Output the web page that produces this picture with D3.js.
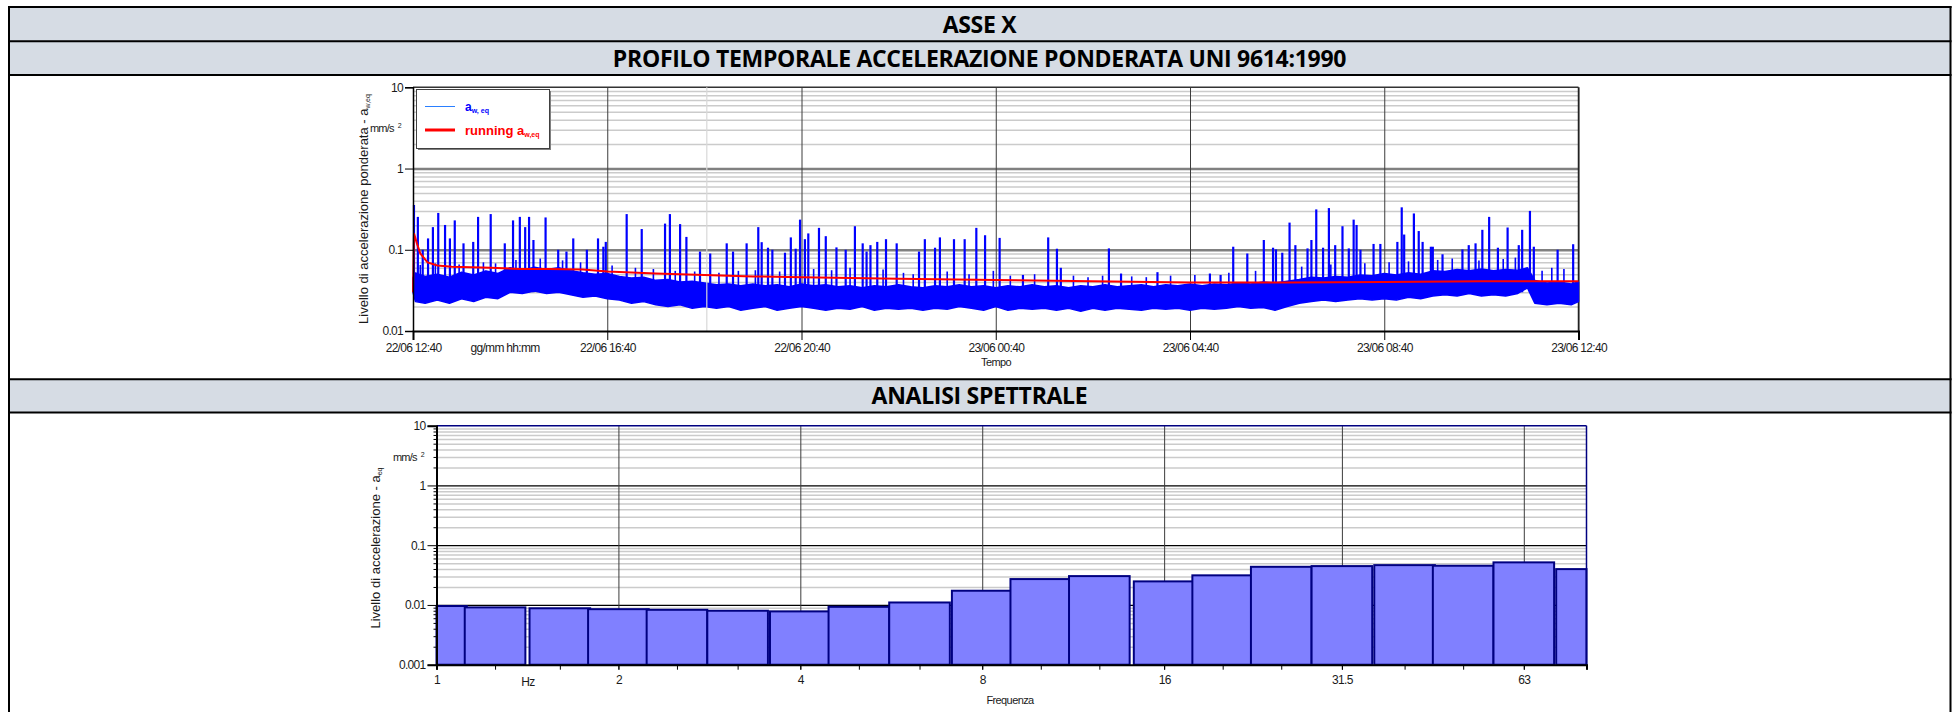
<!DOCTYPE html>
<html>
<head>
<meta charset="utf-8">
<script src="https://cdn.jsdelivr.net/npm/d3@7"></script>
<style>
  body { margin: 0; background: #fff; }
</style>
</head>
<body>
<script>
// ---- data ----
var headerTitles = ["ASSE X", "PROFILO TEMPORALE ACCELERAZIONE PONDERATA UNI 9614:1990", "ANALISI SPETTRALE"];

// time profile (hours after 22/06 12:40, mm/s2)
var timeLabels = ["22/06 12:40", "22/06 16:40", "22/06 20:40", "23/06 00:40", "23/06 04:40", "23/06 08:40", "23/06 12:40"];
var levelTicks = [0.01, 0.1, 1, 10];
// dense part of a_w,eq : [hour, lower edge, upper edge]
var bandEnvelope = [
  [0.00, 0.030, 0.045], [0.05, 0.023, 0.052], [0.25, 0.022, 0.047], [0.50, 0.024, 0.050],
  [0.75, 0.022, 0.046], [1.00, 0.025, 0.053], [1.25, 0.023, 0.049], [1.50, 0.026, 0.055],
  [1.75, 0.025, 0.051], [2.00, 0.030, 0.060], [2.25, 0.029, 0.056], [2.50, 0.031, 0.061],
  [2.75, 0.029, 0.057], [3.00, 0.030, 0.060], [3.25, 0.028, 0.055], [3.50, 0.026, 0.052],
  [3.75, 0.027, 0.050], [4.00, 0.025, 0.051], [4.25, 0.024, 0.047], [4.50, 0.022, 0.045],
  [4.75, 0.023, 0.046], [5.00, 0.021, 0.042], [5.25, 0.020, 0.043], [5.50, 0.021, 0.040],
  [5.75, 0.019, 0.041], [6.00, 0.020, 0.039], [6.25, 0.019, 0.037], [6.50, 0.020, 0.038],
  [6.75, 0.018, 0.036], [7.00, 0.019, 0.038], [7.25, 0.020, 0.036], [7.50, 0.018, 0.037],
  [7.75, 0.019, 0.035], [8.00, 0.020, 0.038], [8.25, 0.019, 0.036], [8.50, 0.018, 0.037],
  [8.75, 0.019, 0.035], [9.00, 0.0185, 0.036], [9.25, 0.020, 0.034], [9.50, 0.018, 0.036],
  [9.75, 0.019, 0.035], [10.00, 0.0185, 0.037], [10.25, 0.019, 0.035], [10.50, 0.018, 0.034],
  [10.75, 0.019, 0.036], [11.00, 0.0185, 0.035], [11.25, 0.020, 0.037], [11.50, 0.019, 0.035],
  [11.75, 0.018, 0.036], [12.00, 0.020, 0.034], [12.25, 0.018, 0.036], [12.50, 0.019, 0.035],
  [12.75, 0.0185, 0.037], [13.00, 0.019, 0.035], [13.25, 0.018, 0.036], [13.50, 0.019, 0.034],
  [13.75, 0.0175, 0.036], [14.00, 0.019, 0.035], [14.25, 0.018, 0.037], [14.50, 0.019, 0.035],
  [14.75, 0.0185, 0.036], [15.00, 0.018, 0.037], [15.25, 0.019, 0.035], [15.50, 0.0185, 0.037],
  [15.75, 0.019, 0.036], [16.00, 0.018, 0.038], [16.25, 0.019, 0.036], [16.50, 0.0185, 0.038],
  [16.75, 0.019, 0.037], [17.00, 0.020, 0.039], [17.25, 0.019, 0.038], [17.50, 0.0195, 0.040],
  [17.75, 0.018, 0.039], [18.00, 0.020, 0.041], [18.25, 0.022, 0.043], [18.50, 0.023, 0.046],
  [18.75, 0.024, 0.045], [19.00, 0.023, 0.047], [19.25, 0.024, 0.046], [19.50, 0.025, 0.049],
  [19.75, 0.024, 0.048], [20.00, 0.025, 0.051], [20.25, 0.024, 0.049], [20.50, 0.026, 0.052],
  [20.75, 0.025, 0.050], [21.00, 0.027, 0.055], [21.25, 0.028, 0.054], [21.50, 0.027, 0.057],
  [21.75, 0.029, 0.055], [22.00, 0.027, 0.058], [22.25, 0.028, 0.055], [22.50, 0.027, 0.057],
  [22.75, 0.029, 0.056], [22.95, 0.034, 0.060], [23.10, 0.022, 0.042], [23.35, 0.021, 0.039],
  [23.60, 0.022, 0.040], [23.85, 0.021, 0.038], [24.00, 0.023, 0.040]
];
// isolated peaks of a_w,eq : [hour, value]
var spikes = [
  [0.02, 0.356], [0.10, 0.254], [0.20, 0.10], [0.31, 0.138], [0.41, 0.19], [0.52, 0.284],
  [0.66, 0.202], [0.76, 0.138], [0.86, 0.23], [1.04, 0.12], [1.24, 0.125], [1.34, 0.254],
  [1.60, 0.275], [1.89, 0.12], [2.06, 0.23], [2.20, 0.254], [2.31, 0.19], [2.39, 0.254],
  [2.48, 0.132], [2.73, 0.25], [2.99, 0.10], [3.16, 0.095], [3.30, 0.138], [3.58, 0.10],
  [3.81, 0.138], [3.92, 0.109], [3.97, 0.125], [4.40, 0.275], [4.71, 0.18], [5.19, 0.21],
  [5.29, 0.275], [5.50, 0.207], [5.63, 0.144], [5.91, 0.095], [6.12, 0.09], [6.46, 0.12],
  [6.59, 0.095], [6.87, 0.12], [7.11, 0.19], [7.18, 0.124], [7.31, 0.106], [7.40, 0.10],
  [7.66, 0.092], [7.78, 0.142], [7.88, 0.103], [7.97, 0.235], [8.07, 0.135], [8.14, 0.159],
  [8.36, 0.186], [8.50, 0.147], [8.72, 0.107], [8.91, 0.10], [9.10, 0.195], [9.26, 0.12],
  [9.34, 0.095], [9.42, 0.114], [9.56, 0.125], [9.74, 0.135], [9.96, 0.12], [10.42, 0.095],
  [10.54, 0.135], [10.75, 0.106], [10.85, 0.142], [11.14, 0.135], [11.36, 0.135], [11.60, 0.186],
  [11.78, 0.151], [12.08, 0.14], [12.56, 0.049], [13.08, 0.142], [13.26, 0.103], [13.34, 0.06],
  [14.33, 0.104], [14.58, 0.051], [15.33, 0.053], [16.41, 0.051], [16.63, 0.049], [16.89, 0.109],
  [17.18, 0.09], [17.52, 0.132], [17.71, 0.106], [17.77, 0.101], [17.90, 0.092], [18.05, 0.216],
  [18.17, 0.114], [18.42, 0.104], [18.50, 0.132], [18.60, 0.314], [18.74, 0.106], [18.86, 0.326],
  [18.99, 0.114], [19.14, 0.195], [19.27, 0.104], [19.37, 0.235], [19.43, 0.202], [19.51, 0.10],
  [19.78, 0.118], [19.92, 0.118], [20.27, 0.125], [20.36, 0.333], [20.41, 0.154], [20.61, 0.28],
  [20.71, 0.17], [20.79, 0.125], [20.96, 0.109], [21.00, 0.109], [21.20, 0.088], [21.61, 0.101],
  [21.74, 0.114], [21.88, 0.12], [22.02, 0.176], [22.16, 0.254], [22.34, 0.106], [22.54, 0.188],
  [22.77, 0.114], [22.84, 0.176], [23.00, 0.301], [23.08, 0.109], [23.57, 0.10], [23.89, 0.117]
];
// smaller peaks just above the dense part : [hour, value]
var minorPeaks = [
  [0.15, 0.065], [0.46, 0.068], [0.95, 0.066], [1.45, 0.070], [1.70, 0.068], [2.12, 0.075],
  [2.62, 0.078], [3.08, 0.074], [3.45, 0.070], [4.10, 0.064], [4.58, 0.060], [4.95, 0.058],
  [5.40, 0.055], [5.80, 0.054], [6.30, 0.052], [6.70, 0.055], [7.05, 0.056], [7.55, 0.054],
  [8.25, 0.058], [8.62, 0.056], [9.00, 0.060], [9.68, 0.057], [10.10, 0.052], [10.30, 0.050],
  [11.00, 0.054], [11.45, 0.050], [11.95, 0.055], [12.30, 0.048], [12.80, 0.050], [13.60, 0.048],
  [13.90, 0.046], [14.20, 0.048], [14.80, 0.047], [15.10, 0.046], [15.60, 0.048], [16.10, 0.049],
  [16.80, 0.052], [17.35, 0.055], [18.30, 0.062], [18.90, 0.066], [19.60, 0.068], [20.10, 0.070],
  [20.50, 0.072], [21.10, 0.075], [21.40, 0.078], [21.95, 0.074], [22.45, 0.077], [22.70, 0.080],
  [23.25, 0.055], [23.45, 0.060], [23.70, 0.058]
];
// running a_w,eq : [hour, value]
var runningAeq = [
  [0.00, 0.030], [0.02, 0.160], [0.08, 0.120], [0.15, 0.090], [0.3, 0.070], [0.5, 0.064],
  [0.8, 0.062], [1.2, 0.061], [1.6, 0.060], [2.2, 0.058], [2.8, 0.058], [3.5, 0.057],
  [4.0, 0.054], [5.0, 0.051], [6.0, 0.049], [7.0, 0.047], [8.0, 0.046], [10.0, 0.044],
  [12.0, 0.0425], [14.0, 0.041], [16.0, 0.0395], [18.0, 0.0395], [20.0, 0.040], [22.0, 0.041],
  [24.0, 0.041]
];
var dataGapHour = 6.05;

// spectrum, 1/3 octave bands (Hz, mm/s2)
var bandCenters = [1, 1.25, 1.6, 2, 2.5, 3.15, 4, 5, 6.3, 8, 10, 12.5, 16, 20, 25, 31.5, 40, 50, 63, 80];
var spectrumValues = [0.0096, 0.0091, 0.0088, 0.0085, 0.0083, 0.0080, 0.0078, 0.0093, 0.0110, 0.0173,
  0.0271, 0.0304, 0.0248, 0.0313, 0.0435, 0.0447, 0.0464, 0.0453, 0.0516, 0.0398];
var freqLabels = ["1", "2", "4", "8", "16", "31.5", "63"];
var spectrumTicks = [0.001, 0.01, 0.1, 1, 10];

// ---- page ----
var svg = d3.select("body").append("svg")
  .attr("width", 1953)
  .attr("height", 712)
  .style("font-family", "'Liberation Sans', Arial, sans-serif");

// report table: grey header rows and black rules
var headRows = [[7, 41.3], [41.3, 75], [379.3, 412.5]];
headRows.forEach(function (r, i) {
  svg.append("rect")
    .attr("x", 9).attr("y", r[0])
    .attr("width", 1941.5).attr("height", r[1] - r[0])
    .attr("fill", "#d6dce4");
  svg.append("text")
    .attr("x", 979.5).attr("y", (r[0] + r[1]) / 2 + 8.5)
    .attr("text-anchor", "middle")
    .style("font-family", "'Open Sans', sans-serif")
    .style("font-weight", 700)
    .style("font-size", "23px")
    .style("letter-spacing", "-0.3px")
    .text(headerTitles[i]);
});
[7, 41.3, 75, 379.3, 412.5].forEach(function (y) {
  svg.append("line").attr("x1", 8).attr("x2", 1951.5).attr("y1", y).attr("y2", y)
    .attr("stroke", "#000").attr("stroke-width", 2);
});
[9, 1950.5].forEach(function (x) {
  svg.append("line").attr("x1", x).attr("x2", x).attr("y1", 6).attr("y2", 712)
    .attr("stroke", "#000").attr("stroke-width", 2);
});

function minorValues(decades) {
  var out = [];
  decades.forEach(function (d) { for (var k = 2; k < 10; k++) out.push(d * k); });
  return out;
}
function styleTicks(g, size) {
  g.selectAll("text")
    .attr("fill", "#1a1a1a")
    .style("font-size", size + "px")
    .style("letter-spacing", "-0.7px");
}

// ===== time profile =====
var parseT = d3.timeParse("%d/%m %H:%M");
var tickDates = timeLabels.map(parseT);
var t0 = tickDates[0];
function atHour(h) { return new Date(+t0 + h * 3600e3); }

var p1 = { left: 413, right: 1578.5, top: 87.3, bottom: 331 };
var x1 = d3.scaleTime().domain([t0, tickDates[tickDates.length - 1]]).range([p1.left, p1.right]);
var y1 = d3.scaleLog().domain([0.01, 10]).range([p1.bottom, p1.top]);

var g1 = svg.append("g");

// grid
g1.append("g").attr("transform", "translate(" + p1.left + ",0)")
  .call(d3.axisLeft(y1).tickValues(minorValues([0.01, 0.1, 1])).tickSize(-(p1.right - p1.left)).tickFormat(""))
  .call(function (g) { g.select(".domain").remove(); })
  .selectAll("line").attr("stroke", "#cbcbcb").attr("stroke-width", 1.5);
g1.append("g").attr("transform", "translate(" + p1.left + ",0)")
  .call(d3.axisLeft(y1).tickValues([0.1, 1]).tickSize(-(p1.right - p1.left)).tickFormat(""))
  .call(function (g) { g.select(".domain").remove(); })
  .selectAll("line").attr("stroke", "#808080").attr("stroke-width", 2.5);
g1.append("g").attr("transform", "translate(0," + p1.bottom + ")")
  .call(d3.axisBottom(x1).tickValues(tickDates).tickSize(-(p1.bottom - p1.top)).tickFormat(""))
  .call(function (g) { g.select(".domain").remove(); })
  .selectAll("line").attr("stroke", "#3c3c3c").attr("stroke-width", 1);
g1.append("line").attr("x1", p1.left).attr("x2", p1.right).attr("y1", p1.top).attr("y2", p1.top)
  .attr("stroke", "#333").attr("stroke-width", 1.5);
g1.append("line").attr("x1", p1.right).attr("x2", p1.right).attr("y1", p1.top).attr("y2", p1.bottom)
  .attr("stroke", "#222").attr("stroke-width", 1.5);

// a_w,eq
var band = d3.area()
  .x(function (d) { return x1(atHour(d[0])); })
  .y0(function (d) { return y1(d[1]); })
  .y1(function (d) { return y1(d[2]); });
g1.append("path").datum(bandEnvelope)
  .attr("d", band).attr("fill", "#0000ff")
  .attr("stroke", "#0000ff").attr("stroke-width", 1.5).attr("stroke-linejoin", "bevel");
function peakLines(data, width) {
  g1.append("g").selectAll("line").data(data).enter().append("line")
    .attr("x1", function (d) { return x1(atHour(d[0])); })
    .attr("x2", function (d) { return x1(atHour(d[0])); })
    .attr("y1", y1(0.03))
    .attr("y2", function (d) { return y1(d[1]); })
    .attr("stroke", "#0000ff").attr("stroke-width", width);
}
peakLines(minorPeaks, 1.6);
peakLines(spikes, 2.2);
g1.append("line")
  .attr("x1", x1(atHour(dataGapHour))).attr("x2", x1(atHour(dataGapHour)))
  .attr("y1", p1.top).attr("y2", p1.bottom)
  .attr("stroke", "#d8d8d8").attr("stroke-width", 1.2);

// running a_w,eq
g1.append("path").datum(runningAeq)
  .attr("d", d3.line()
    .x(function (d) { return x1(atHour(d[0])); })
    .y(function (d) { return y1(d[1]); }))
  .attr("fill", "none").attr("stroke", "#ff0000").attr("stroke-width", 2);

// axes
g1.append("g").attr("transform", "translate(0," + p1.bottom + ")")
  .call(d3.axisBottom(x1).tickValues(tickDates).tickSize(9)
    .tickFormat(function (d, i) { return timeLabels[i]; }))
  .call(function (g) {
    g.select(".domain").attr("stroke", "#000").attr("stroke-width", 2);
    g.selectAll(".tick line").attr("stroke", "#000");
    styleTicks(g, 12);
  });
g1.append("g").attr("transform", "translate(" + p1.left + ",0)")
  .call(d3.axisLeft(y1).tickValues(levelTicks).tickSize(8).tickPadding(2)
    .tickFormat(function (d) { return String(d); }))
  .call(function (g) {
    g.select(".domain").attr("stroke", "#000").attr("stroke-width", 1.5);
    styleTicks(g, 12);
  });

// axis titles and units
g1.append("text").attr("x", 505).attr("y", 351.5).attr("text-anchor", "middle")
  .style("font-size", "12px").style("letter-spacing", "-0.7px").attr("fill", "#1a1a1a")
  .text("gg/mm hh:mm");
g1.append("text").attr("x", 996).attr("y", 366).attr("text-anchor", "middle")
  .style("font-size", "11px").style("letter-spacing", "-0.6px").attr("fill", "#1a1a1a")
  .text("Tempo");
var u1 = g1.append("text").attr("x", 370).attr("y", 132)
  .style("font-size", "11px").style("letter-spacing", "-0.8px").attr("fill", "#1a1a1a");
u1.append("tspan").text("mm/s");
u1.append("tspan").attr("dx", 4).attr("dy", -4).style("font-size", "7px").text("2");
var t1 = g1.append("text").attr("transform", "translate(368,209) rotate(-90)")
  .attr("text-anchor", "middle").style("font-size", "13px").attr("fill", "#1a1a1a");
t1.append("tspan").text("Livello di accelerazione ponderata - a");
t1.append("tspan").attr("dy", 2).style("font-size", "7px").text("w,eq");

// legend
var lg = g1.append("g");
lg.append("rect").attr("x", 418).attr("y", 91).attr("width", 133).attr("height", 59).attr("fill", "#808080");
lg.append("rect").attr("x", 416.5).attr("y", 89.5).attr("width", 133).attr("height", 59)
  .attr("fill", "#fff").attr("stroke", "#404040").attr("stroke-width", 1);
lg.append("line").attr("x1", 425).attr("x2", 455).attr("y1", 106.5).attr("y2", 106.5)
  .attr("stroke", "#2a7fff").attr("stroke-width", 1);
lg.append("line").attr("x1", 425).attr("x2", 455).attr("y1", 130).attr("y2", 130)
  .attr("stroke", "#ff0000").attr("stroke-width", 3);
var l1 = lg.append("text").attr("x", 465).attr("y", 110.5).attr("fill", "#0000ff")
  .style("font-weight", 700).style("font-size", "12px");
l1.append("tspan").text("a");
l1.append("tspan").attr("dy", 2).style("font-size", "7px").text("w, eq");
var l2 = lg.append("text").attr("x", 465).attr("y", 134.5).attr("fill", "#ff0000")
  .style("font-weight", 700).style("font-size", "13px");
l2.append("tspan").text("running a");
l2.append("tspan").attr("dy", 2).style("font-size", "7px").text("w,eq");

// ===== spectrum =====
var p2 = { left: 436.5, right: 1586.5, top: 425.7, bottom: 664.7 };
var x2 = d3.scaleLog().base(2).domain([1, 80]).range([p2.left, p2.right]);
var y2 = d3.scaleLog().domain([0.001, 10]).range([p2.bottom, p2.top]);
var octaves = freqLabels.map(Number);
var g2 = svg.append("g");

g2.append("g").attr("transform", "translate(" + p2.left + ",0)")
  .call(d3.axisLeft(y2).tickValues(minorValues([0.001, 0.01, 0.1, 1])).tickSize(-(p2.right - p2.left)).tickFormat(""))
  .call(function (g) { g.select(".domain").remove(); })
  .selectAll("line").attr("stroke", "#cbcbcb").attr("stroke-width", 1.5);
g2.append("g").attr("transform", "translate(" + p2.left + ",0)")
  .call(d3.axisLeft(y2).tickValues([0.01, 0.1, 1]).tickSize(-(p2.right - p2.left)).tickFormat(""))
  .call(function (g) { g.select(".domain").remove(); })
  .selectAll("line").attr("stroke", "#000").attr("stroke-width", 1.2);
g2.append("g").attr("transform", "translate(0," + p2.bottom + ")")
  .call(d3.axisBottom(x2).tickValues(octaves).tickSize(-(p2.bottom - p2.top)).tickFormat(""))
  .call(function (g) { g.select(".domain").remove(); })
  .selectAll("line").attr("stroke", "#3c3c3c").attr("stroke-width", 1);

// bars over 1/3 octave bands
var sixth = Math.pow(2, 1 / 6);
g2.append("g").selectAll("rect").data(bandCenters).enter().append("rect")
  .attr("x", function (f) { return x2(Math.max(1, f / sixth)); })
  .attr("width", function (f) { return x2(Math.min(80, f * sixth)) - x2(Math.max(1, f / sixth)); })
  .attr("y", function (f, i) { return y2(spectrumValues[i]); })
  .attr("height", function (f, i) { return p2.bottom - y2(spectrumValues[i]); })
  .attr("fill", "#8080ff")
  .attr("stroke", "#000080").attr("stroke-width", 2);

// frame
g2.append("line").attr("x1", p2.left).attr("x2", p2.right).attr("y1", p2.top).attr("y2", p2.top)
  .attr("stroke", "#000080").attr("stroke-width", 1.5);
g2.append("line").attr("x1", p2.right).attr("x2", p2.right).attr("y1", p2.top).attr("y2", p2.bottom)
  .attr("stroke", "#000080").attr("stroke-width", 1.5);

// axes
g2.append("g").attr("transform", "translate(0," + p2.bottom + ")")
  .call(d3.axisBottom(x2).tickValues(bandCenters).tickSize(5).tickFormat(""))
  .call(function (g) { g.select(".domain").remove(); });
g2.append("g").attr("transform", "translate(0," + p2.bottom + ")")
  .call(d3.axisBottom(x2).tickValues(octaves).tickSize(5).tickPadding(6)
    .tickFormat(function (d, i) { return freqLabels[i]; }))
  .call(function (g) {
    g.select(".domain").attr("stroke", "#000").attr("stroke-width", 2);
    styleTicks(g, 12);
  });
g2.append("g").attr("transform", "translate(" + p2.left + ",0)")
  .call(d3.axisLeft(y2).tickValues(minorValues([0.001, 0.01, 0.1, 1])).tickSize(3).tickFormat(""))
  .call(function (g) { g.select(".domain").remove(); });
g2.append("g").attr("transform", "translate(" + p2.left + ",0)")
  .call(d3.axisLeft(y2).tickValues(spectrumTicks).tickSize(9).tickPadding(2)
    .tickFormat(function (d) { return String(d); }))
  .call(function (g) {
    g.select(".domain").attr("stroke", "#000").attr("stroke-width", 2);
    styleTicks(g, 12);
  });

g2.append("text").attr("x", 528).attr("y", 686).attr("text-anchor", "middle")
  .style("font-size", "12px").style("letter-spacing", "-0.7px").attr("fill", "#1a1a1a")
  .text("Hz");
g2.append("text").attr("x", 1010).attr("y", 704).attr("text-anchor", "middle")
  .style("font-size", "11px").style("letter-spacing", "-0.6px").attr("fill", "#1a1a1a")
  .text("Frequenza");
var u2 = g2.append("text").attr("x", 393).attr("y", 461)
  .style("font-size", "11px").style("letter-spacing", "-0.8px").attr("fill", "#1a1a1a");
u2.append("tspan").text("mm/s");
u2.append("tspan").attr("dx", 4).attr("dy", -4).style("font-size", "7px").text("2");
var t2 = g2.append("text").attr("transform", "translate(380,548) rotate(-90)")
  .attr("text-anchor", "middle").style("font-size", "13px").attr("fill", "#1a1a1a");
t2.append("tspan").text("Livello di accelerazione - a");
t2.append("tspan").attr("dy", 2).style("font-size", "7px").text("eq");
</script>
</body>
</html>
